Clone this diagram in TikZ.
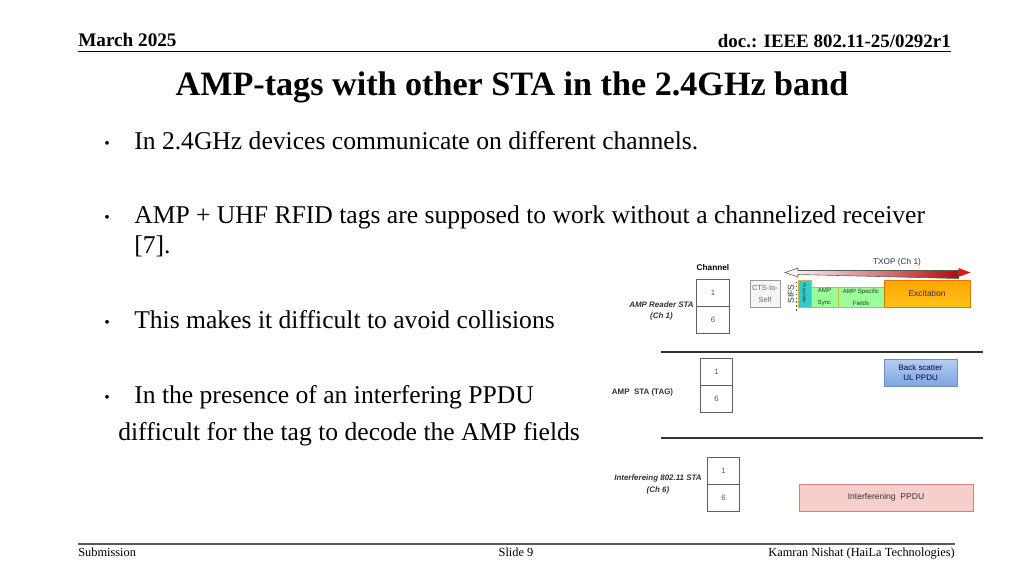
\documentclass[tikz,border=0pt]{standalone}
\usepackage{fontspec}
\setmainfont{Liberation Serif}
\newfontfamily\arialfont{Liberation Sans}
\usepackage{tikz}
\usetikzlibrary{calc}
\usetikzlibrary{matrix}
\usetikzlibrary{positioning}
\usepackage{xcolor}

\newlength\pxu
\setlength\pxu{0.703125pt}
\newcommand\dfont[2]{\arialfont\fontsize{#1}{#2}\selectfont}

\definecolor{ctsfill}{HTML}{F5F5F5}
\definecolor{preamblefill}{HTML}{33CCCC}
\definecolor{ampfill}{HTML}{99FF99}
\definecolor{ampdraw}{HTML}{C9B640}
\definecolor{excittop}{HTML}{FFA500}
\definecolor{excitbot}{HTML}{FFC21A}
\definecolor{bsctop}{HTML}{B5CDEF}
\definecolor{bscbot}{HTML}{7EA6E0}
\definecolor{bscdraw}{HTML}{6C8EBF}
\definecolor{intfill}{HTML}{F8CECC}
\definecolor{intdraw}{HTML}{E07B7B}
\definecolor{txopred}{HTML}{B00C10}
\definecolor{txophead}{HTML}{E01414}

\begin{document}
\begin{tikzpicture}[x=1\pxu,y=-1\pxu,
  chan/.style={matrix of nodes,inner sep=0pt,outer sep=0pt,row sep=-\pgflinewidth,
    nodes={draw=gray!75!black,semithick,minimum width=32.5\pxu,minimum height=26.5\pxu,inner sep=0pt,
      font=\dfont{5.5}{6},text=gray!70!black}},
  slot/.style={draw,semithick,inner sep=0pt,align=center,minimum height=27\pxu,font=\dfont{6}{7},text=black!80}]
  \useasboundingbox (0,0) rectangle (1024,576);

  % header and footer
  \node (date) [anchor=base west,inner sep=0pt,font=\fontsize{13.5}{16}\bfseries\selectfont] at (78,46) {March 2025};
  \node (doc) [anchor=base east,inner sep=0pt,font=\fontsize{13.3}{16}\bfseries\selectfont] at (951,47) {doc.: IEEE 802.11-25/0292r1};
  \draw [semithick] (78,51) -- (951,51);
  \draw [gray!70!black,line width=1.5pt] (78,544) -- (955,544);
  \node (sub) [anchor=base west,inner sep=0pt,font=\fontsize{8.7}{10}\selectfont] at (78,556) {Submission};
  \node (slide) [anchor=base,inner sep=0pt,font=\fontsize{8.7}{10}\selectfont] at (516,556) {Slide 9};
  \node (author) [anchor=base east,inner sep=0pt,font=\fontsize{8.7}{10}\selectfont] at (955,556) {Kamran Nishat (HaiLa Technologies)};

  \node (title) [anchor=base,inner sep=0pt,font=\fontsize{24}{28}\bfseries\selectfont] at (512,95) {AMP-tags with other STA in the 2.4GHz band};

  % bullets
  \foreach \y in {149,223,328,403}
    \node [inner sep=0pt,font=\fontsize{11}{13}\selectfont] at (107,\y-4) {•};
  \node (b1) [anchor=base west,inner sep=0pt,font=\fontsize{18}{22}\selectfont] at (134,149) {In 2.4GHz devices communicate on different channels.};
  \node (b2) [anchor=base west,inner sep=0pt,font=\fontsize{18}{22}\selectfont] at (134,223) {AMP + UHF RFID tags are supposed to work without a channelized receiver};
  \node (b2b) [anchor=base west,inner sep=0pt,font=\fontsize{18}{22}\selectfont] at (134,253) {[7].};
  \node (b3) [anchor=base west,inner sep=0pt,font=\fontsize{18}{22}\selectfont] at (134,328) {This makes it difficult to avoid collisions};
  \node (b4) [anchor=base west,inner sep=0pt,font=\fontsize{18}{22}\selectfont] at (134,403) {In the presence of an interfering PPDU};
  \node (b4b) [anchor=base west,inner sep=0pt,font=\fontsize{18}{22}\selectfont] at (118,440) {difficult for the tag to decode the AMP fields};

  % channel stacks
  \matrix (rdr) [chan] at (713,306.5) { 1 \\ 6 \\ };
  \matrix (tag) [chan] at (716.5,385.5) { 1 \\ 6 \\ };
  \matrix (intf) [chan] at (723.5,484.5) { 1 \\ 6 \\ };

  \node (chlabel) [inner sep=0pt,font=\dfont{5.8}{7}\bfseries] at (713,267.5) {Channel};
  \node (rdrlabel) [inner sep=0pt,align=center,font=\dfont{5.6}{7.7}\bfseries\itshape,text=black!80] at (661.5,311) {AMP Reader STA\\(Ch 1)};
  \node (taglabel) [inner sep=0pt,font=\dfont{5.6}{7}\bfseries,text=black!80] at (642.5,392) {AMP\ \ STA (TAG)};
  \node (intflabel) [inner sep=0pt,align=center,font=\dfont{5.6}{8.6}\bfseries\itshape,text=black!80] at (658,484.5) {Interfereing 802.11 STA\\(Ch 6)};

  \draw [thick,black!80] (661,352) -- (983,352);
  \draw [thick,black!80] (661,438) -- (983,438);

  % reader sequence
  \node (cts) [slot,draw=gray!80,fill=ctsfill,minimum width=30\pxu,font=\dfont{5.2}{8.4},text=gray!80!black] at (765,293.5) {CTS-to-\\Self};
  \node (sifs) [rotate=90,inner sep=0pt,font=\dfont{6}{7},text=black!80] at (791,294) {SIFS};
  \node (pre) [slot,draw=ampdraw,fill=preamblefill,minimum width=13\pxu,font=\dfont{3.2}{4}] at (804.5,293.5) {\rotatebox{-90}{Preamble}};
  \node (sync) [slot,draw=ampdraw,fill=ampfill,minimum width=27\pxu,minimum height=20\pxu,font=\dfont{4.3}{8.4}] at (824.5,297) {AMP\\Sync};
  \node (spec) [slot,draw=ampdraw,fill=ampfill,minimum width=46\pxu,minimum height=20\pxu,font=\dfont{4.3}{8.4}] at (861,297) {AMP Specific\\Fields};
  \node (excit) [slot,draw=orange!90!black,top color=excittop,bottom color=excitbot,minimum width=86\pxu] at (927,293.5) {Excitation};
  \draw [dotted,thick,black!70] ($(pre.north west)+(-1,2)$) -- ++(0,31);

  % TXOP
  \coordinate (txopL) at (785,272.5);
  \coordinate (txopR) at (970.5,272.5);
  \shade [left color=white,right color=txopred,draw=gray!70!black,line join=miter]
    (txopL) -- ++(13,-4.5) -- ++(0,2.5) -- ($(txopR)+(-12,-2)$) -- ++(0,2) -- ++(0,4) -- ++(0,2)
    -- ($(txopL)+(13,2)$) -- ++(0,2.5) -- cycle;
  \fill [txophead] (txopR) -- ++(-12,-4.5) -- ++(0,9) -- cycle;
  \node (txop) [inner sep=0pt,font=\dfont{5.8}{7},text=black!80] at (897,262.5) {TXOP (Ch 1)};

  % tag and interferer
  \node (bsc) [slot,draw=bscdraw,top color=bsctop,bottom color=bscbot,minimum width=73\pxu,font=\dfont{5.6}{7},text=black!70!blue] at (920.5,372.5) {Back scatter\\UL PPDU};
  \node (ippdu) [slot,draw=intdraw,fill=intfill,minimum width=174\pxu] at (886,497.5) {Interferening\ \ PPDU};
\end{tikzpicture}
\end{document}
